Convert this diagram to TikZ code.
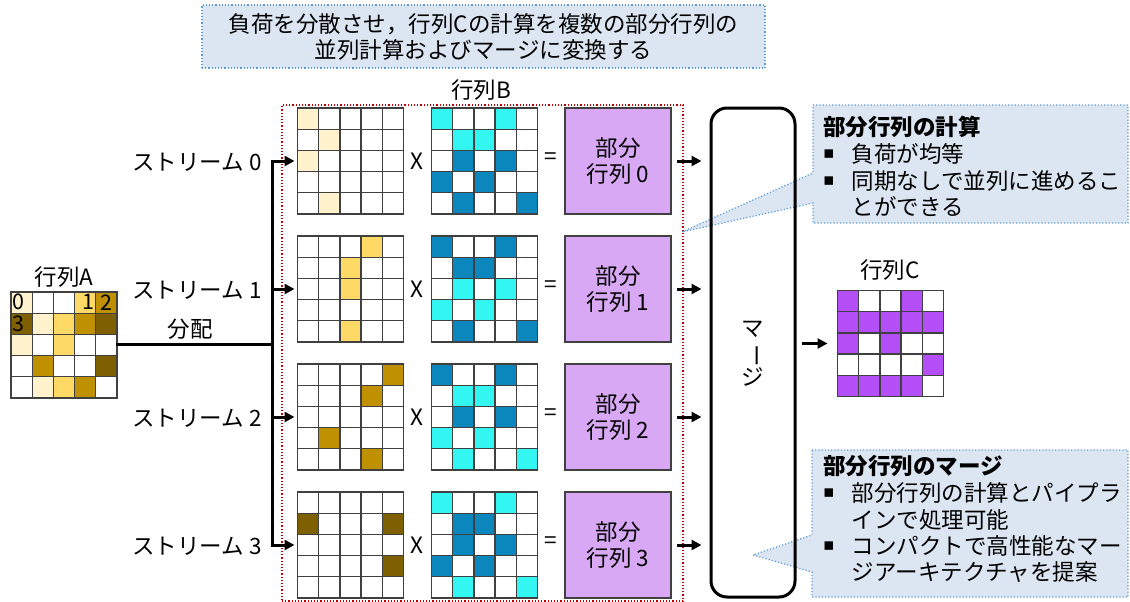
\documentclass[tikz,border=0pt]{standalone}
\usepackage{fontspec}
\usepackage{graphicx}
\newfontfamily\jp{Noto Sans CJK JP}
\newfontfamily\dv{DejaVu Sans}
\usetikzlibrary{arrows.meta,calc}
\definecolor{calloutfill}{HTML}{DCE6F2}
\definecolor{calloutline}{HTML}{5B9BD5}
\definecolor{redline}{HTML}{C00000}
\definecolor{aL}{HTML}{FFF2CC}
\definecolor{aM}{HTML}{FFD966}
\definecolor{aG}{HTML}{BF9000}
\definecolor{aD}{HTML}{7F6000}
\definecolor{bC}{HTML}{33F5F2}
\definecolor{bB}{HTML}{0B87BD}
\definecolor{pfill}{HTML}{D9A8F5}
\definecolor{cP}{HTML}{B44FF7}
\definecolor{gridc}{HTML}{404040}
\newcommand\fs{\jp\fontsize{22.5}{26}\selectfont}
\newcommand\fsd{\jp\fontsize{21.5}{22}\selectfont}
\newcommand\cellw{21.2}
\newcommand\drawgrid[1]{%
  \begin{scope}[shift={(#1.north west)}]
    \foreach \i in {0,...,5}{%
      \draw[gridline] (\i*\cellw,0) -- (\i*\cellw,106);
      \draw[gridline] (0,\i*\cellw) -- (106,\i*\cellw);
    }
  \end{scope}}
\newcommand\fillcells[2]{%
  \begin{scope}[shift={(#1.north west)}]
    \foreach \r/\c/\col in {#2}{%
      \fill[\col] (\c*\cellw,\r*\cellw) rectangle ++(\cellw,\cellw);
    }
  \end{scope}}
\begin{document}
\begin{tikzpicture}[x=1pt,y=-1pt,
  txt/.style={font=\fs, inner sep=0pt},
  digit/.style={font=\fsd, inner sep=0pt},
  matbox/.style={minimum width=106pt, minimum height=106pt, inner sep=0pt, outer sep=0pt},
  partbox/.style={minimum width=106pt, minimum height=106pt, inner sep=0pt, outer sep=0pt, draw=gridc, line width=1.3pt, fill=pfill, font=\fs, align=center},
  gridline/.style={draw=gridc, line width=1.3pt, line cap=rect},
  arr/.style={line width=3pt, -{Triangle[length=10pt,width=10pt]}},
  wire/.style={line width=3pt, line cap=rect},
  callout/.style={fill=calloutfill, draw=calloutline, dotted, line width=1.2pt},
  bullet/.style={font=\dv\fontsize{17}{20}\selectfont, inner sep=0pt},
]
\useasboundingbox (0,0) rectangle (1130,602);

% top callout
\node[callout, minimum width=563pt, minimum height=63pt, align=center, font=\fs] (top) at (483.5,36.5)
  {負荷を分散させ，行列Cの計算を複数の部分行列の\\並列計算およびマージに変換する};

% matrix A
\node[matbox] (MA) at (64,345) {};
\fillcells{MA}{0/0/aL,0/3/aM,0/4/aG,1/0/aD,1/1/aL,1/2/aM,1/3/aG,1/4/aD,2/0/aL,2/2/aM,3/1/aG,3/4/aD,4/1/aL,4/2/aM,4/3/aG}
\drawgrid{MA}
\node[txt] (labA) at (64,277) {行列A};
\node[digit, anchor=west] (d0) at (12.5,302.3) {0};
\node[digit, anchor=east] (d1) at (95,302.3) {1};
\node[digit] (d2) at (106.4,302.3) {2};
\node[digit, anchor=west] (d3) at (12.5,323.5) {3};

% frame of B
\node[draw=redline, dotted, line width=1.2pt, minimum width=401pt, minimum height=496pt, inner sep=0pt] (Bframe) at (482.5,353) {};
\node[txt] (labB) at (481,90) {行列B};

% streams
\foreach \k/\cy in {0/161,1/289,2/417,3/545}{
  \node[matbox] (A\k) at (350.5,\cy) {};
  \node[matbox] (B\k) at (484.5,\cy) {};
  \node[partbox] (P\k) at (618,\cy) {部分\\行列 \k};
  \node[txt] (X\k) at (417,\cy) {X};
  \node[txt] (E\k) at (551,\cy-2) {=};
  \node[txt, anchor=east] (S\k) at (262,\cy+1) {ストリーム \k};
}
\fillcells{A0}{0/0/aL,1/1/aL,2/0/aL,4/1/aL}
\fillcells{A1}{0/3/aM,1/2/aM,2/2/aM,4/2/aM}
\fillcells{A2}{0/4/aG,1/3/aG,3/1/aG,4/3/aG}
\fillcells{A3}{1/0/aD,1/4/aD,3/4/aD}
\fillcells{B0}{0/0/bC,0/3/bC,1/1/bC,1/2/bC,2/1/bB,2/3/bB,3/0/bB,3/2/bB,4/1/bB,4/4/bB}
\fillcells{B1}{0/0/bB,0/3/bB,1/1/bB,1/2/bB,2/1/bC,2/3/bC,3/0/bC,3/2/bC,4/1/bB,4/4/bB}
\fillcells{B2}{0/0/bB,0/3/bB,1/1/bC,1/2/bC,2/1/bB,2/3/bB,3/0/bC,3/2/bC,4/1/bC,4/4/bC}
\fillcells{B3}{0/0/bC,0/3/bC,1/1/bB,1/2/bB,2/1/bB,2/3/bB,3/0/bB,3/2/bB,4/1/bC,4/4/bC}
\foreach \k in {0,1,2,3}{\drawgrid{A\k}\drawgrid{B\k}}

% distribution
\coordinate (J) at (272,344);
\draw[wire] (MA.east |- J) -- (J);
\node[txt] (dist) at (190,329) {分配};
\draw[wire] (J |- A0.west) -- (J |- A3.west);
\foreach \k in {0,1,2,3}{
  \draw[arr, shorten >=3pt] (J |- A\k.west) -- (A\k.west);
}

% callouts
\draw[callout] (813,105) -- (1128,105) -- (1128,223) -- (813,223) -- (813,203) -- (682,232) -- (813,173) -- cycle;
\draw[callout] (812,450) -- (1128,450) -- (1128,597) -- (812,597) -- (812,572) -- (753,555) -- (812,535) -- cycle;

% merge
\node[draw, line width=3pt, rounded corners=16pt, minimum width=84pt, minimum height=489pt, inner sep=0pt] (M) at (753,352.5) {};
\node[txt, align=center, font=\jp\fontsize{22.5}{23.5}\selectfont] (Mtext) at (753,354) {マ\\\rotatebox[origin=c]{-90}{ー}\\ジ};
\foreach \k in {0,1,2,3}{
  \draw[arr, shorten <=6pt, shorten >=8pt] (P\k.east) -- (P\k.east -| M.west);
}

% matrix C
\node[matbox] (MC) at (890.5,343.5) {};
\fillcells{MC}{0/0/cP,0/3/cP,1/0/cP,1/1/cP,1/2/cP,1/3/cP,1/4/cP,2/0/cP,2/2/cP,3/4/cP,4/0/cP,4/1/cP,4/2/cP,4/3/cP}
\drawgrid{MC}
\node[txt] (labC) at (890,270) {行列C};
\draw[arr, shorten <=5pt, shorten >=10pt] (M.east |- MC.west) -- (MC.west);

% callout texts
\node[txt, anchor=west, font=\fs\bfseries] (t1) at (823,127) {部分行列の計算};
\node[bullet] (b11) at (829,154) {▪};
\node[txt, anchor=west] (t11) at (851.7,154) {負荷が均等};
\node[bullet] (b12) at (829,181) {▪};
\node[txt, anchor=west] (t12) at (851.7,181) {同期なしで並列に進めるこ};
\node[txt, anchor=west] (t13) at (851.7,207) {とができる};

\node[txt, anchor=west, font=\fs\bfseries] (t2) at (823,466) {部分行列のマージ};
\node[bullet] (b21) at (829,493) {▪};
\node[txt, anchor=west] (t21) at (851.7,493) {部分行列の計算とパイプラ};
\node[txt, anchor=west] (t22) at (851.7,519.5) {インで処理可能};
\node[bullet] (b22) at (829,546) {▪};
\node[txt, anchor=west] (t23) at (851.7,546) {コンパクトで高性能なマー};
\node[txt, anchor=west] (t24) at (851.7,572.5) {ジアーキテクチャを提案};
\end{tikzpicture}
\end{document}
